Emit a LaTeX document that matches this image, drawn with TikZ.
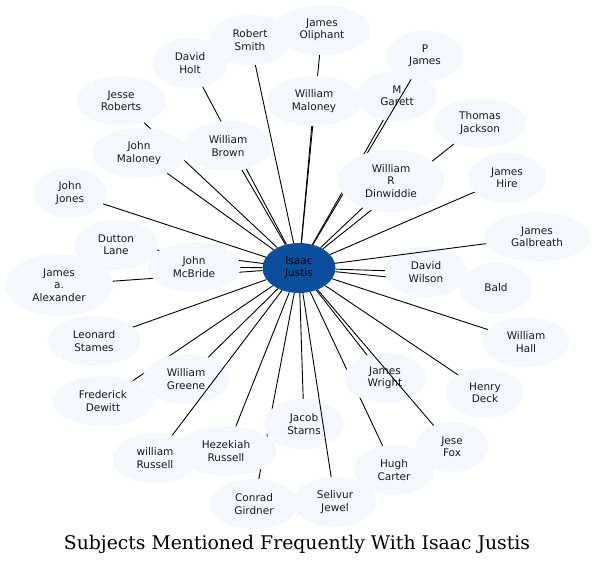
\documentclass[tikz,border=0pt]{standalone}
\usepackage{fontspec}
\setsansfont{DejaVu Sans}
\newfontfamily\titlefont{DejaVu Serif}
\usetikzlibrary{shapes.geometric}
\pgfdeclarelayer{background}
\pgfsetlayers{background,main}
\definecolor{personfill}{HTML}{F4F8FE}
\definecolor{hubfill}{HTML}{0B4F9C}
\begin{document}
\begin{tikzpicture}[x=1pt,y=-1pt,line cap=round,line join=round,
  person/.style={ellipse,fill=personfill,minimum width=73pt,minimum height=50pt,
    inner xsep=11.5pt,inner ysep=5.7pt,align=center,text=black!90,
    font=\sffamily\fontsize{10.5}{12.3}\selectfont},
  hub/.style={person,fill=hubfill,text=black},
  link/.style={line width=0.9pt}]
  \useasboundingbox (0,0) rectangle (596,565);
  \node[hub] (justis) at (299,268) {Isaac\\Justis};
  \node[person] (oliphant) at (322,30) {James\\Oliphant};
  \node[person] (rsmith) at (250,40) {Robert\\Smith};
  \node[person] (holt) at (190,63) {David\\Holt};
  \node[person] (pjames) at (425,56) {P\\James};
  \node[person] (garett) at (397,96) {M\\Garett};
  \draw[link] (justis) -- (pjames);
  \node[person] (wmaloney) at (314,101) {William\\Maloney};
  \node[person] (roberts) at (121,101) {Jesse\\Roberts};
  \node[person] (jackson) at (480,123) {Thomas\\Jackson};
  \node[person] (brown) at (228,146) {William\\Brown};
  \node[person] (jmaloney) at (139,153) {John\\Maloney};
  \node[person] (dinwiddie) at (391,181) {William\\R\\Dinwiddie};
  \node[person] (hire) at (507,178) {James\\Hire};
  \node[person] (jones) at (70,193) {John\\Jones};
  \node[person] (galbreath) at (537,237) {James\\Galbreath};
  \node[person] (dutton) at (116,245) {Dutton\\Lane};
  \node[person] (mcbride) at (194,267) {John\\McBride};
  \node[person] (alexander) at (59,285) {James\\a.\\Alexander};
  \node[person] (wilson) at (426,272) {David\\Wilson};
  \draw[link] (justis) -- (galbreath);
  \node[person] (bald) at (496,288) {Bald};
  \node[person] (stames) at (94,341) {Leonard\\Stames};
  \node[person] (hall) at (526,342) {William\\Hall};
  \node[person] (greene) at (186,379) {William\\Greene};
  \node[person] (wright) at (385,378) {James\\Wright};
  \node[person] (dewitt) at (103,401) {Frederick\\Dewitt};
  \node[person] (deck) at (485,393) {Henry\\Deck};
  \node[person] (starns) at (304,424) {Jacob\\Starns};
  \node[person] (fox) at (452,447) {Jese\\Fox};
  \draw[link] (justis) -- (fox);
  \node[person] (hrussell) at (226,451) {Hezekiah\\Russell};
  \node[person] (wrussell) at (155,458) {william\\Russell};
  \draw[link] (justis) -- (wrussell);
  \node[person] (carter) at (394,470) {Hugh\\Carter};
  \node[person] (girdner) at (254,504) {Conrad\\Girdner};
  \node[person] (jewel) at (335,502) {Selivur\\Jewel};
  \draw[link] (justis) -- (jewel);
  \node[font=\titlefont\fontsize{18.8}{22}\selectfont] (title) at (297,544)
    {Subjects Mentioned Frequently With Isaac Justis};
  % links that run under the other names
  \begin{pgfonlayer}{background}
    \draw[link] (justis) -- (oliphant);
    \draw[link] (justis) -- (rsmith);
    \draw[link] (justis) -- (holt);
    \draw[link] (justis) -- (garett);
    \draw[link] (justis) -- (wmaloney);
    \draw[link] (justis) -- (roberts);
    \draw[link] (justis) -- (jackson);
    \draw[link] (justis) -- (brown);
    \draw[link] (justis) -- (jmaloney);
    \draw[link] (justis) -- (dinwiddie);
    \draw[link] (justis) -- (hire);
    \draw[link] (justis) -- (jones);
    \draw[link] (justis) -- (dutton);
    \draw[link] (justis) -- (mcbride);
    \draw[link] (justis) -- (alexander);
    \draw[link] (justis) -- (wilson);
    \draw[link] (justis) -- (bald);
    \draw[link] (justis) -- (stames);
    \draw[link] (justis) -- (hall);
    \draw[link] (justis) -- (greene);
    \draw[link] (justis) -- (wright);
    \draw[link] (justis) -- (dewitt);
    \draw[link] (justis) -- (deck);
    \draw[link] (justis) -- (starns);
    \draw[link] (justis) -- (hrussell);
    \draw[link] (justis) -- (carter);
    \draw[link] (justis) -- (girdner);
  \end{pgfonlayer}
\end{tikzpicture}
\end{document}
